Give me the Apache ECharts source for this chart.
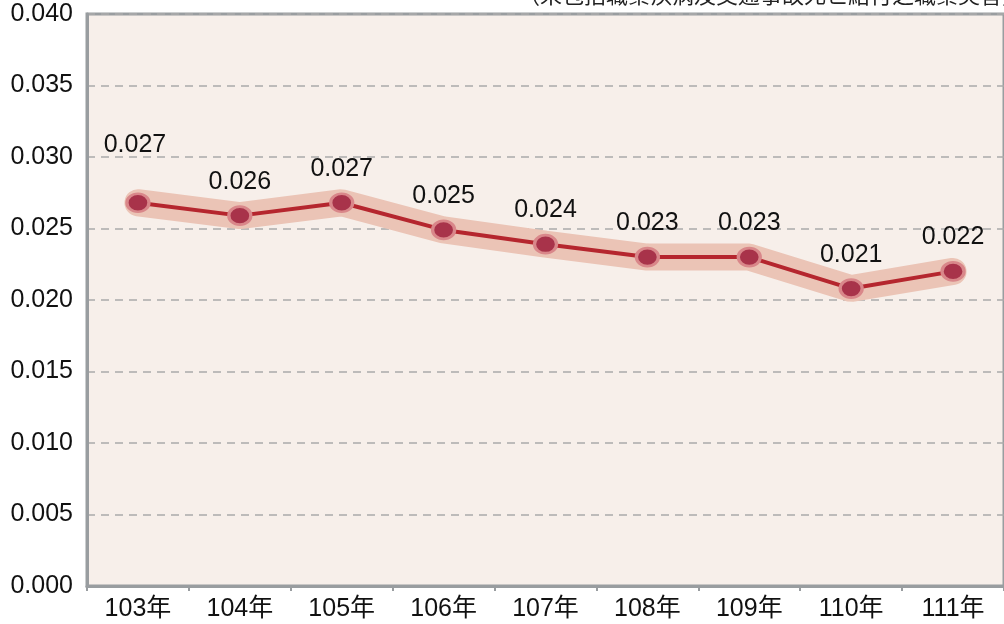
<!DOCTYPE html>
<html>
<head>
<meta charset="utf-8">
<script src="https://cdn.jsdelivr.net/npm/echarts@6/dist/echarts.min.js"></script>
<style>
  html, body { margin: 0; padding: 0; background: #fff; }
  #main { width: 1004px; height: 624px; }
</style>
</head>
<body>
<div id="main"></div>
<script>
var years = ['103年', '104年', '105年', '106年', '107年', '108年', '109年', '110年', '111年'];
var rates = [0.0268, 0.0259, 0.0268, 0.0249, 0.0239, 0.0230, 0.0230, 0.0208, 0.0220];
var yTicks = [0, 0.005, 0.010, 0.015, 0.020, 0.025, 0.030, 0.035, 0.040];
var note = '（未包括職業疾病及交通事故死亡給付之職業災害）';

function initChart(elem) {
	var myChart = echarts.init(document.getElementById(elem));

	// first label sits higher than the others
	var lineData = rates.map(function (v, i) {
		if (i == 0) return { value: v, label: { offset: [-3, -24] } };
		return v;
	});

	var option = {
		animation: false,
		graphic: [{
			type: 'text',
			left: 518,
			top: -16,
			style: {
				text: note,
				font: '22px "Noto Sans CJK TC"',
				fill: '#222'
			}
		}],
		grid: {
			left: 87,
			right: -5,
			top: 14,
			bottom: 38,
			show: true,
			backgroundColor: '#f7efea',
			borderColor: '#999da0',
			borderWidth: 3
		},
		xAxis: {
			type: 'category',
			data: years,
			boundaryGap: true,
			axisLine: { lineStyle: { color: '#999da0', width: 3 } },
			axisTick: { show: true, length: 5, lineStyle: { color: '#999da0', width: 2 } },
			axisLabel: { color: '#111', fontSize: 25, fontFamily: 'Arial, "Noto Sans CJK TC"', margin: 11 }
		},
		yAxis: {
			type: 'value',
			min: yTicks[0],
			max: yTicks[yTicks.length - 1],
			interval: 0.005,
			axisLine: { show: true, lineStyle: { color: '#999da0', width: 3 } },
			axisTick: { show: false },
			axisLabel: {
				color: '#111',
				fontSize: 25,
				fontFamily: 'Arial',
				margin: 14,
				formatter: function (v) { return v.toFixed(3); }
			},
			splitLine: { lineStyle: { color: '#aaaaaa', type: [8, 6], width: 1.5 } }
		},
		series: [
			{
				// pink halo behind the line
				type: 'line',
				data: rates,
				silent: true,
				symbol: 'none',
				lineStyle: { color: '#ebc4b6', width: 27, cap: 'round', join: 'bevel' },
				z: 1
			},
			{
				type: 'line',
				data: lineData,
				symbol: 'circle',
				symbolSize: [22, 18],
				lineStyle: { color: '#b5262e', width: 4 },
				itemStyle: { color: '#a8334a', borderColor: '#d9878a', borderWidth: 3 },
				label: {
					show: true,
					position: 'top',
					distance: 11,
					color: '#111',
					fontSize: 25,
					fontFamily: 'Arial',
					formatter: function (p) { return p.value.toFixed(3); }
				},
				z: 3
			}
		]
	};
	myChart.setOption(option);
}

initChart('main');
</script>
</body>
</html>
